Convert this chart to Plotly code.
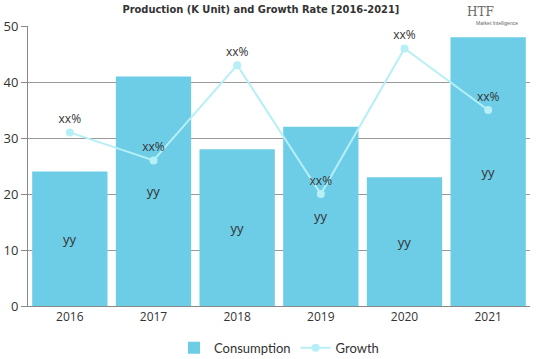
import plotly.graph_objects as go

years = ["2016", "2017", "2018", "2019", "2020", "2021"]
consumption = [24, 41, 28, 32, 23, 48]
growth = [31, 26, 43, 20, 46, 35]
bar_labels = ["yy"] * 6
growth_labels = ["xx%"] * 6
y_ticks = [0, 10, 20, 30, 40, 50]

fig = go.Figure()
fig.add_trace(go.Bar(
    x=years, y=consumption, name="Consumption",
    marker=dict(color="#6dcde7", line=dict(width=0)),
    text=bar_labels, textposition="inside", insidetextanchor="middle",
    textfont=dict(family="Open Sans, sans-serif", size=13, color="#333333"),
))
fig.add_trace(go.Scatter(
    x=years, y=growth, name="Growth", mode="lines+markers+text",
    line=dict(color="#b6eff5", width=2),
    marker=dict(color="#b6eff5", size=8),
    text=growth_labels, textposition="top center",
    textfont=dict(family="Open Sans, sans-serif", size=12, color="#333333"),
))

fig.update_layout(
    width=539, height=359,
    margin=dict(l=28, r=9, t=26, b=53),
    plot_bgcolor="white", paper_bgcolor="white",
    bargap=0.1,
    showlegend=True,
    legend=dict(orientation="h", x=0.5, xanchor="center",
                yref="container", y=0.031, yanchor="middle",
                font=dict(family="Lato, sans-serif", size=13, color="#333333"),
                itemwidth=30, tracegroupgap=0),
    title=dict(text="<b>Production (K Unit) and Growth Rate [2016-2021]</b>",
               x=0.484, xanchor="center", y=0.975, yanchor="middle",
               font=dict(family="DejaVu Sans Condensed, Liberation Sans Narrow, sans-serif", size=11, color="#333333")),
)
fig.layout.annotations = [
    dict(text="HTF", x=0.902, y=1.0, xref="paper", yref="paper", showarrow=False,
         xanchor="center", yanchor="middle", yshift=14,
         font=dict(family="DejaVu Serif", size=12, color="#666")),
    dict(text="Market Intelligence", x=0.934, y=1.0, xref="paper", yref="paper", showarrow=False,
         xanchor="center", yanchor="middle", yshift=3,
         font=dict(family="Liberation Sans", size=5, color="#666")),
]
fig.update_xaxes(showline=True, linecolor="#888", linewidth=1, ticks="", showgrid=False,
                 automargin=False,
                 tickfont=dict(family="Open Sans, sans-serif", size=12, color="#333333"))
fig.update_yaxes(range=[0, 50], tickvals=y_ticks, showline=True, linecolor="#888", linewidth=1,
                 ticks="outside", ticklen=6, tickcolor="#888", automargin=False,
                 showgrid=True, gridcolor="#999", gridwidth=1, zeroline=False,
                 tickfont=dict(family="Open Sans, sans-serif", size=13, color="#333333"))

fig.write_html("out.html", config={"displayModeBar": False},
               post_script="document.body.style.margin='0';")
